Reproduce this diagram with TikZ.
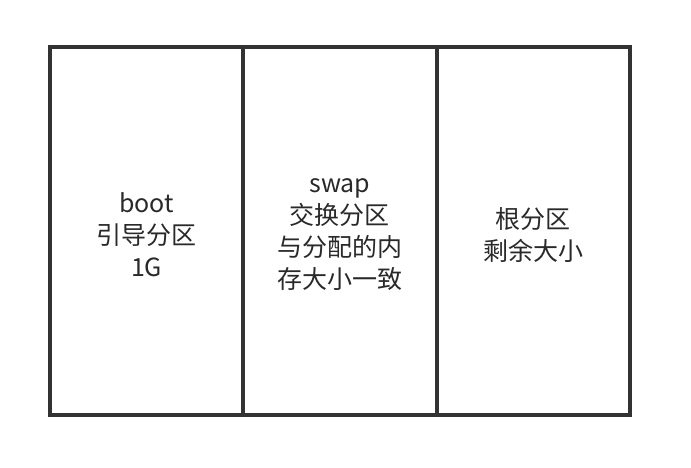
\documentclass[tikz,border=0pt]{standalone}
\usepackage{fontspec}
\setmainfont{Noto Sans CJK SC}
\usetikzlibrary{positioning}
\definecolor{partline}{RGB}{51,51,51}
\tikzset{
  partbox/.style={draw=partline, line width=4pt, minimum width=193.3pt, minimum height=368pt,
    inner sep=0pt, outer sep=0pt},
  parttext/.style={align=center, inner sep=0pt, font=\fontsize{25}{32}\selectfont, text=partline!80!black},
}
\begin{document}
\begin{tikzpicture}[x=1pt, y=-1pt]
  \useasboundingbox (0,0) rectangle (691,468);
  \node[partbox, anchor=north west] (boot) at (50,47) {};
  \node[partbox, right=0pt of boot] (swap) {};
  \node[partbox, right=0pt of swap] (root) {};
  % labels sit a little below the box centres
  \node[parttext] (boottext) at ([yshift=-4pt]boot.center) {boot\\引导分区\\1G};
  \node[parttext] (swaptext) at ([yshift=-4pt]swap.center) {swap\\交换分区\\与分配的内\\存大小一致};
  \node[parttext] (roottext) at ([yshift=-4pt]root.center) {根分区\\剩余大小};
\end{tikzpicture}
\end{document}
